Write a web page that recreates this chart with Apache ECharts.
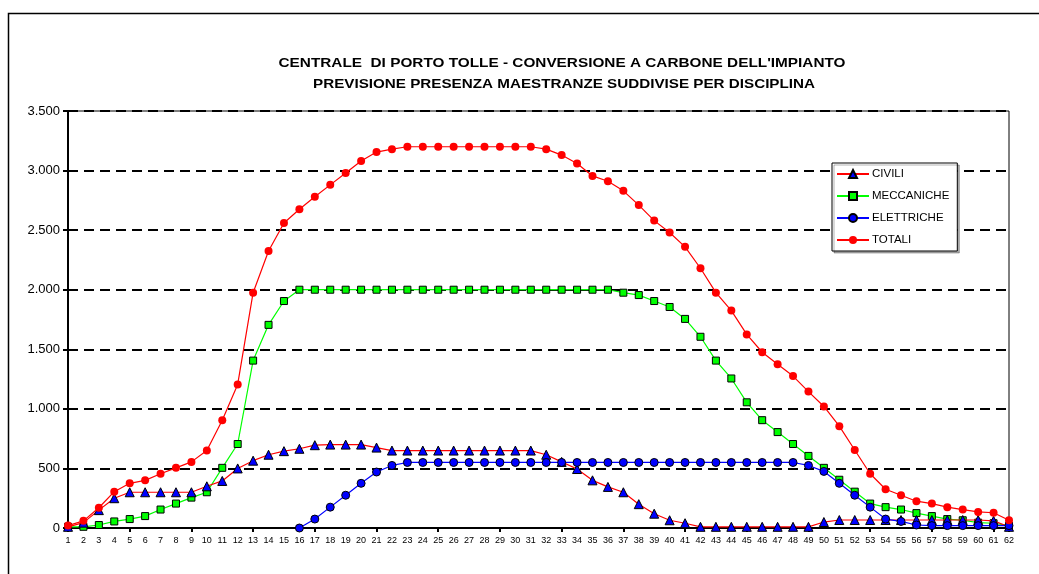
<!DOCTYPE html>
<html>
<head>
<meta charset="utf-8">
<script src="https://cdn.jsdelivr.net/npm/echarts@6/dist/echarts.min.js"></script>
<style>
html,body{margin:0;padding:0;background:#fff;}
#chart{width:1039px;height:574px;}
</style>
</head>
<body>
<div id="chart"></div>
<script>
var categories = [];
for (var i = 1; i <= 62; i++) categories.push(String(i));

var titleLines = ["CENTRALE  DI PORTO TOLLE - CONVERSIONE A CARBONE DELL'IMPIANTO",
                  "PREVISIONE PRESENZA MAESTRANZE SUDDIVISE PER DISCIPLINA"];

var civili = [10, 45, 150, 250, 300, 300, 300, 300, 300, 350,
              395, 500, 565, 615, 645, 665, 695, 700, 700, 700,
              675, 650, 650, 650, 650, 650, 650, 650, 650, 650,
              650, 615, 555, 495, 400, 345, 300, 200, 120, 65,
              40, 10, 10, 10, 10, 10, 10, 10, 10, 50,
              67, 67, 67, 67, 67, 67, 67, 67, 67, 67,
              60, 10];

var meccaniche = [10, 10, 25, 55, 75, 100, 155, 205, 255, 300,
                  505, 705, 1405, 1705, 1905, 2000, 2000, 2000, 2000, 2000,
                  2000, 2000, 2000, 2000, 2000, 2000, 2000, 2000, 2000, 2000,
                  2000, 2000, 2000, 2000, 2000, 2000, 1975, 1955, 1905, 1855,
                  1755, 1605, 1405, 1255, 1055, 905, 805, 705, 605, 505,
                  405, 305, 205, 175, 155, 125, 100, 75, 65, 45,
                  40, 20];

var elettriche = [null, null, null, null, null, null, null, null, null, null,
                  null, null, null, null, null, 0, 75, 175, 275, 375,
                  470, 525, 550, 550, 550, 550, 550, 550, 550, 550,
                  550, 550, 550, 550, 550, 550, 550, 550, 550, 550,
                  550, 550, 550, 550, 550, 550, 550, 550, 525, 475,
                  375, 275, 175, 75, 55, 25, 20, 20, 20, 20,
                  20, 20];

var totali = [20, 60, 170, 305, 375, 400, 455, 505, 555, 650,
              905, 1205, 1975, 2325, 2560, 2675, 2780, 2880, 2980, 3080,
              3155, 3180, 3200, 3200, 3200, 3200, 3200, 3200, 3200, 3200,
              3200, 3180, 3130, 3060, 2955, 2910, 2830, 2710, 2580, 2480,
              2360, 2180, 1975, 1825, 1625, 1475, 1375, 1275, 1145, 1020,
              855, 655, 455, 325, 275, 225, 205, 175, 155, 135,
              128, 65];

var yTicks = [0, 500, 1000, 1500, 2000, 2500, 3000, 3500];

function fmt(v) {
  var s = String(v);
  if (s.length > 3) s = s.slice(0, s.length - 3) + '.' + s.slice(s.length - 3);
  return s;
}

var chart = echarts.init(document.getElementById('chart'), null, {renderer: 'canvas'});
var FONT = '"Liberation Sans", Arial, sans-serif';

chart.setOption({
  animation: false,
  backgroundColor: '#fff',
  textStyle: {fontFamily: FONT},
  graphic: [
    {type: 'rect', silent: true, z: -10,
     shape: {x: 8.5, y: 13.5, width: 1100, height: 700},
     style: {fill: 'none', stroke: '#000', lineWidth: 1.5}},
    {type: 'text', x: 562, y: 63, scaleX: 1.18, silent: true,
     style: {text: titleLines[0], fill: '#000', font: 'bold 13px ' + FONT, align: 'center', verticalAlign: 'middle'}},
    {type: 'text', x: 564, y: 84, scaleX: 1.17, silent: true,
     style: {text: titleLines[1], fill: '#000', font: 'bold 13px ' + FONT, align: 'center', verticalAlign: 'middle'}}
  ],
  grid: {left: 68, right: 30, top: 111, bottom: 46, show: true, borderColor: '#000', borderWidth: 1, backgroundColor: 'transparent'},
  legend: {
    orient: 'vertical',
    left: 832, top: 163,
    padding: [5, 8, 5, 4],
    itemWidth: 32, itemHeight: 10, itemGap: 10,
    backgroundColor: '#fff',
    borderColor: '#000', borderWidth: 1,
    shadowColor: 'rgba(0,0,0,0.3)', shadowOffsetX: 2, shadowOffsetY: 2, shadowBlur: 0,
    textStyle: {fontSize: 11.5, color: '#000', fontFamily: FONT, padding: [0, 0, 0, -2]},
    data: ['CIVILI', 'MECCANICHE', 'ELETTRICHE', 'TOTALI']
  },
  xAxis: {
    type: 'category',
    data: categories,
    boundaryGap: false,
    axisLine: {lineStyle: {color: '#000', width: 2}},
    axisTick: {show: true, interval: 3, length: 4, lineStyle: {color: '#000', width: 2}},
    axisLabel: {interval: 0, fontSize: 9, color: '#000', margin: 8},
    splitLine: {show: false}
  },
  yAxis: {
    type: 'value',
    min: yTicks[0], max: yTicks[yTicks.length - 1], interval: 500,
    axisLine: {show: true, lineStyle: {color: '#000', width: 2}},
    axisTick: {show: true, length: 5, lineStyle: {color: '#000', width: 2}},
    axisLabel: {fontSize: 13, color: '#000', margin: 8, formatter: fmt},
    splitLine: {show: true, lineStyle: {color: '#000', width: 2, type: [10, 6]}}
  },
  series: [
    {name: 'CIVILI', type: 'line', data: civili, z: 3,
     symbol: 'triangle', symbolSize: 9,
     lineStyle: {color: '#ff0000', width: 1.2},
     itemStyle: {color: '#0000ff', borderColor: '#000', borderWidth: 1}},
    {name: 'MECCANICHE', type: 'line', data: meccaniche, z: 2,
     symbol: 'rect', symbolSize: 7,
     lineStyle: {color: '#00ff00', width: 1.2},
     itemStyle: {color: '#00ff00', borderColor: '#000', borderWidth: 1}},
    {name: 'ELETTRICHE', type: 'line', data: elettriche, z: 4, connectNulls: false,
     symbol: 'circle', symbolSize: 8,
     lineStyle: {color: '#0000ff', width: 1.2},
     itemStyle: {color: '#0000ff', borderColor: '#000', borderWidth: 1}},
    {name: 'TOTALI', type: 'line', data: totali, z: 5,
     symbol: 'circle', symbolSize: 8,
     lineStyle: {color: '#ff0000', width: 1.2},
     itemStyle: {color: '#ff0000', borderWidth: 0}}
  ]
});
</script>
</body>
</html>
